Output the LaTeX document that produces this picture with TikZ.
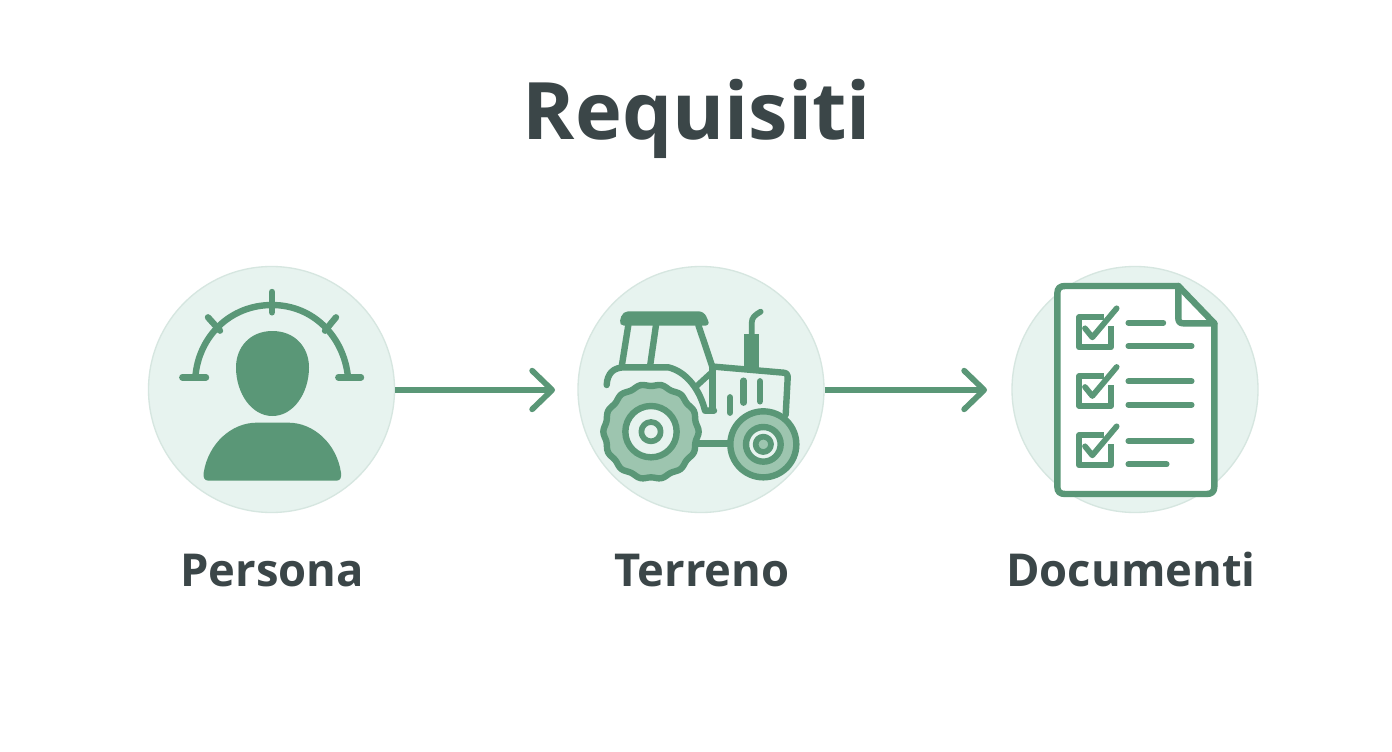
\documentclass[tikz,border=0pt]{standalone}
\usepackage{fontspec}
\setmainfont{Open Sans}
\usetikzlibrary{arrows.meta}
\definecolor{gr}{HTML}{5A9777}
\definecolor{disc}{HTML}{E7F3EF}
\definecolor{discedge}{HTML}{D6E6E0}
\definecolor{tyre}{HTML}{9DC5AF}
\definecolor{ink}{HTML}{3B4648}
\tikzset{
  disc/.style={circle,draw=discedge,line width=1pt,fill=disc,minimum size=184.5pt,inner sep=0pt},
  title/.style={text=ink,anchor=base,font=\bfseries\fontsize{59.5}{60}\selectfont},
  lab/.style={text=ink,anchor=base,font=\bfseries\fontsize{34}{34}\selectfont},
  conn/.style={draw=gr,line width=4.3pt,-{Straight Barb[length=15pt,width=29pt,line width=4.3pt,round]}},
  ic/.style={draw=gr,line width=4.8pt,line cap=round,line join=round},
  thin/.style={draw=gr,line width=4.3pt,line cap=round,line join=round},
  zoomed/.style={x=0.25pt,y=-0.25pt},
}
\begin{document}
\begin{tikzpicture}[x=0.75pt,y=-0.75pt]
\useasboundingbox (0,0) rectangle (1392,752);
\fill[white] (0,0) rectangle (1392,752);
\node[title] (ttl) at (697,140) {Requisiti};
\node[disc] (persona) at (271.5,389.5) {};
\node[disc] (terreno) at (701,389.5) {};
\node[disc] (documenti) at (1135,389.5) {};
\node[lab] (lp) at (272,586) {Persona};
\node[lab] (lt) at (702,586) {Terreno};
\node[lab] (ld) at (1131,586) {Documenti};
\coordinate (tip1) at (555,390);
\coordinate (tip2) at (987,390);
\draw[conn] (persona.east |- tip1) -- (tip1);
\draw[conn] (terreno.east |- tip2) -- (tip2);
% person
\begin{scope}[shift={(140,260)},zoomed]
\fill[gr] (397,213) .. controls (465,213) and (507,262) .. (507,322)
  .. controls (507,400) and (460,468) .. (397,468)
  .. controls (335,468) and (288,400) .. (288,322)
  .. controls (288,262) and (330,213) .. (397,213) -- cycle;
\fill[gr] (205,662) .. controls (192,662) and (189,650) .. (191,638)
  .. controls (205,550) and (275,488) .. (350,488) -- (445,488)
  .. controls (520,488) and (590,550) .. (603,638)
  .. controls (605,650) and (602,662) .. (590,662) -- cycle;
\draw[ic] (166,352) .. controls (175,230) and (270,135) .. (396,135)
  .. controls (520,135) and (612,230) .. (624,352);
\draw[ic] (127,352) -- (198,352);
\draw[ic] (595,352) -- (663,352);
\draw[ic] (396,96) -- (396,157);
\draw[ic] (204,172) -- (240,212);
\draw[ic] (588,172) -- (555,212);
\end{scope}
% tractor
\begin{scope}[shift={(570,260)},zoomed]
\fill[gr,rounded corners=4pt] (146,197) -- (158,154) -- (402,154) -- (421,197) -- cycle;
\draw[ic] (175,195) -- (155,320);
\draw[ic] (258,195) -- (240,320);
\draw[ic] (385,195) -- (427,320);
\draw[ic] (110,375) .. controls (112,340) and (130,322) .. (165,322) -- (295,322)
  .. controls (350,335) and (390,390) .. (405,452) -- (432,452);
\draw[ic] (427,320) -- (427,452);
\draw[thin] (380,378) -- (427,335);
\draw[ic] (432,320) -- (640,338) .. controls (650,338) and (654,345) .. (653,355) -- (647,465);
\fill[gr] (523,222) rectangle (566,328);
\draw[thin] (545,225) -- (545,190) .. controls (545,172) and (555,165) .. (572,155);
\draw[ic] (480,412) -- (480,458);
\draw[ic] (521,362) -- (521,428);
\draw[ic] (570,364) -- (570,424);
\draw[ic] (385,550) -- (480,550);
\draw[ic,fill=tyre] plot[smooth cycle,samples=112,domain=0:356.8] ({243+(140+3*cos(14*\x))*cos(\x)},{515+(140+3*cos(14*\x))*sin(\x)});
\draw[ic,fill=disc] (243,515) circle[radius=77];
\draw[thin,fill=disc] (243,515) circle[radius=29];
\draw[ic,fill=tyre] (580,553) circle[radius=99];
\draw[ic,fill=disc] (580,553) circle[radius=52];
\draw[thin,fill=tyre] (580,553) circle[radius=23];
\end{scope}
% document
\begin{scope}[shift={(1005,260)},zoomed]
\draw[ic,fill=white] (180,78) -- (520,78) -- (628,190) -- (628,680)
  .. controls (628,695) and (620,702) .. (605,702) -- (180,702)
  .. controls (165,702) and (157,695) .. (157,680) -- (157,100)
  .. controls (157,85) and (165,78) .. (180,78) -- cycle;
\draw[ic] (520,78) -- (520,175) .. controls (520,185) and (525,190) .. (535,190) -- (628,190);
\foreach \dy in {0,176,354}{
  \begin{scope}[yshift=-\dy*0.25pt]
  \draw[thin,line cap=butt] (298,172) -- (222,172) -- (222,262) -- (318,262) -- (318,198);
  \draw[thin] (240,205) -- (262,232) -- (335,145);
  \end{scope}
}
\draw[thin] (370,188) -- (475,188);
\draw[thin] (370,258) -- (560,258);
\draw[thin] (370,364) -- (560,364);
\draw[thin] (370,434) -- (560,434);
\draw[thin] (370,543) -- (560,543);
\draw[thin] (370,613) -- (485,613);
\end{scope}
\end{tikzpicture}
\end{document}
